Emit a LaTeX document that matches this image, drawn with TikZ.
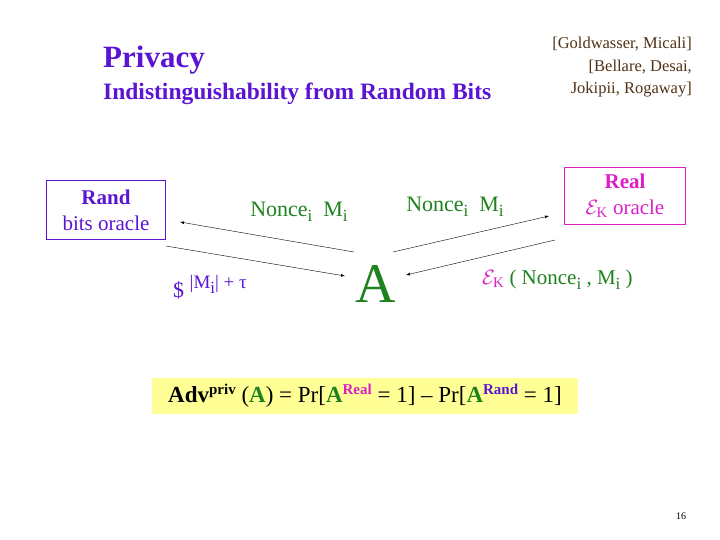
\documentclass[tikz,border=0pt]{standalone}
\usepackage{fontspec}
\setmainfont{Liberation Serif}
\newcommand{\lowsub}[1]{\raisebox{-5pt}{\fontsize{17}{17}\selectfont #1}}
\newcommand{\hisup}[1]{\raisebox{8pt}{\fontsize{15}{15}\selectfont\bfseries #1}}
\begin{document}
\begin{tikzpicture}[x=1pt,y=-1pt,
  ar/.style={-latex,thin,black},
  tx/.style={inner sep=0pt,anchor=center}]
\definecolor{pur}{RGB}{90,20,210}
\definecolor{grn}{RGB}{30,130,30}
\definecolor{mag}{RGB}{220,30,200}
\definecolor{brn}{RGB}{80,50,20}
\definecolor{yel}{RGB}{255,255,150}
\useasboundingbox (0,0) rectangle (720,540);
\node[tx,anchor=west,text=pur,font=\fontsize{31}{33}\selectfont\bfseries] (t1) at (103,60) {Privacy};
\node[tx,anchor=west,text=pur,font=\fontsize{23.5}{26}\selectfont\bfseries] (t2) at (103,94) {Indistinguishability from Random Bits};
\node[tx,anchor=north east,text=brn,align=right,font=\fontsize{16.5}{22.5}\selectfont] (cit) at (692,37) {{[Goldwasser, Micali]}\\{}{[Bellare, Desai,}\\{}Jokipii, Rogaway{]}};
\node[draw=pur,thin,minimum width=119,minimum height=59,align=center,font=\fontsize{21}{26}\selectfont,text=pur] (rand) at (106,210) {\textbf{Rand}\\bits oracle};
\node[draw=mag,thin,minimum width=121,minimum height=57,align=center,font=\fontsize{21}{26}\selectfont,text=mag] (real) at (625,196) {\textbf{Real}\\$\mathcal{E}_{\mathrm{K}}$ oracle};
\node[tx,text=grn,font=\fontsize{56}{60}\selectfont] (A) at (376,284) {A};
\coordinate (a1) at (354,252); \coordinate (b1) at (180,222);
\coordinate (a2) at (166,246); \coordinate (b2) at (345,276);
\coordinate (a3) at (393,252); \coordinate (b3) at (549,216);
\coordinate (a4) at (555,240); \coordinate (b4) at (406,275);
\draw[ar] (a1) -- (b1);
\draw[ar] (a2) -- (b2);
\draw[ar] (a3) -- (b3);
\draw[ar] (a4) -- (b4);
\node[tx,text=grn,font=\fontsize{22}{24}\selectfont] (n1) at (299,212) {Nonce\lowsub{i}\ \ M\lowsub{i}};
\node[tx,text=grn,font=\fontsize{22}{24}\selectfont] (n2) at (455,207) {Nonce\lowsub{i}\ \ M\lowsub{i}};
\node[tx,text=pur,font=\fontsize{22}{24}\selectfont,anchor=west] (d) at (173,287) {\$ \raisebox{9pt}{\fontsize{19}{19}\selectfont |M\lowsub{i}| + τ}};
\node[tx,text=grn,font=\fontsize{21}{24}\selectfont,anchor=west] (e) at (482,280) {\textcolor{mag}{$\mathcal{E}_{\mathrm{K}}$} ( Nonce\lowsub{i} , M\lowsub{i} )};
\node[fill=yel,minimum width=426,minimum height=36,inner sep=0pt,font=\fontsize{23}{26}\selectfont] (adv) at (365,396) {\textbf{Adv}\hisup{priv} (\textcolor{grn}{\textbf{A}}) = Pr[\textcolor{grn}{\textbf{A}}\hisup{\textcolor{mag}{Real}} = 1] – Pr[\textcolor{grn}{\textbf{A}}\hisup{\textcolor{pur}{Rand}} = 1]};
\node[tx,font=\fontsize{10}{12}\selectfont] (pg) at (681,516) {16};
\end{tikzpicture}
\end{document}
